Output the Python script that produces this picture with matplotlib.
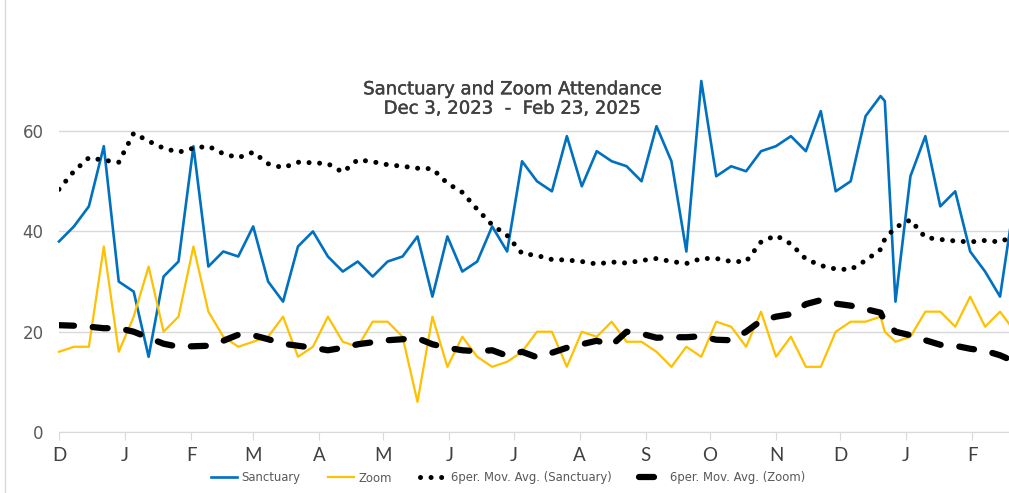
import numpy as np, pandas as pd
import matplotlib; matplotlib.use("Agg"); import matplotlib.pyplot as plt
import matplotlib.patheffects as pe
from matplotlib.lines import Line2D

# ---- weekly attendance, Dec 3 2023 .. Feb 23 2025 (+ Christmas Eve 2024) ----
dates = list(pd.date_range("2023-12-03", "2025-02-23", freq="7D"))
dates.insert(56, pd.Timestamp("2024-12-24"))

sanctuary = [38, 41, 45, 57, 30, 28, 15, 31, 34, 57, 33,
             36, 35, 41, 30, 26, 37, 40, 35, 32, 34,
             31, 34, 35, 39, 27, 39, 32, 34, 41, 36,
             54, 50, 48, 59, 49, 56, 54, 53, 50, 61, 54,
             36, 70, 51, 53, 52, 56, 57, 59, 56, 64,
             48, 50, 63, 67, 66,
             26, 51, 59, 45, 48, 36, 32, 27, 47]
zoom = [16, 17, 17, 37, 16, 23, 33, 20, 23, 37, 24,
        19, 17, 18, 19, 23, 15, 17, 23, 18, 17,
        22, 22, 19, 6, 23, 13, 19, 15, 13, 14,
        16, 20, 20, 13, 20, 19, 22, 18, 18, 16, 13,
        17, 15, 22, 21, 17, 24, 15, 19, 13, 13,
        20, 22, 22, 23, 20,
        18, 19, 24, 24, 21, 27, 21, 24, 20]
# moving-average trendlines as drawn in the original
ma_sanctuary = [48.4, 52, 54.7, 54.2, 53.8, 59.6, 58, 56.6, 55.8, 56.6, 57,
                55.5, 54.7, 55.8, 53.5, 52.7, 53.8, 53.7, 53.5, 51.8, 54.3,
                53.9, 53.3, 53, 52.6, 52.5, 49.6, 47.8, 44.4, 41.3, 39.2,
                35.6, 35.2, 34.4, 34.3, 34, 33.5, 33.9, 33.7, 34.2, 34.6, 34,
                33.6, 34.6, 34.6, 34, 34, 37.9, 39.2, 37.5, 34.5, 33.2,
                32.5, 32.4, 34.2, 36.4, 38.5,
                40.8, 42.3, 38.8, 38.4, 38.1, 37.9, 38.2, 37.9, 39.2]
ma_zoom = [21.3, 21.2, 21, 20.7, 20.7, 20, 18.8, 17.6, 17, 17.1, 17.2,
           18.2, 19.4, 19.3, 18.5, 17.6, 17.2, 16.8, 16.3, 16.8, 17.5,
           17.9, 18.3, 18.5, 18.7, 17.5, 16.8, 16.3, 16.1, 16.3, 15.2,
           16, 14.9, 15.8, 16.8, 17.5, 18.2, 17.3, 20, 19.6, 18.8, 18.9,
           18.9, 19.1, 18.4, 18.3, 20, 22.2, 23, 23.5, 25.5, 26.3,
           25.6, 25.2, 24.5, 23.8, 22,
           20, 19.3, 18.3, 17.4, 17.2, 16.6, 16.2, 15.3, 14]
yticks = [0, 20, 40, 60]

W, H = 1009, 493
fig = plt.figure(figsize=(W/100, H/100), dpi=100)
ax = fig.add_axes([59/W, 1-432/H, 950/W, (432-81)/H])

ax.plot(dates, sanctuary, color="#0070C0", lw=1.9, label="Sanctuary", clip_on=False, zorder=3)
ax.plot(dates, zoom, color="#FFC000", lw=1.6, label="Zoom", clip_on=False, zorder=3)
ax.plot(dates, ma_sanctuary, color="black", lw=3.6, ls=(0, (0.01, 2.1)), dash_capstyle="round",
        label="6per. Mov. Avg. (Sanctuary)", zorder=4)
ax.plot(dates, ma_zoom, color="black", lw=4.5, ls=(0, (2.4, 3.0)), dash_capstyle="round",
        label="6per. Mov. Avg. (Zoom)", zorder=4)

start = pd.Timestamp("2023-12-03")
ax.set_xlim(start, start + pd.Timedelta(days=445.2))
ax.set_ylim(0, 70)
ax.set_yticks(yticks)
ax.grid(axis="y", color="#d9d9d9", lw=1)
ax.set_axisbelow(True)
months = pd.date_range("2023-12-01", "2025-02-01", freq="MS") + pd.Timedelta(days=2)
ax.set_xticks(months)
ax.set_xticklabels([d.strftime("%b")[0] for d in months], fontsize=13.5, color="#404040",
                   family="Lato")
ax.tick_params(axis="x", length=6, color="#d9d9d9", pad=5)
ax.tick_params(axis="y", length=0, pad=11, labelsize=12, labelcolor="#595959")
for s in ["top", "right", "left"]:
    ax.spines[s].set_visible(False)
ax.spines["bottom"].set_color("#d9d9d9")

fig.text(512/W, 1-99/H, "Sanctuary and Zoom Attendance\nDec 3, 2023  -  Feb 23, 2025",
         ha="center", va="center", fontsize=13, color="#404040", linespacing=1.1,
         path_effects=[pe.withStroke(linewidth=0.3, foreground="#404040")])

fig.legend(loc="center", bbox_to_anchor=(508/W, 1-478/H), ncol=4, frameon=False, fontsize=8.4,
           labelcolor="#595959", handlelength=2.2, columnspacing=2.4, handletextpad=0.4)

fig.add_artist(Line2D([5/W, 5/W], [0, 1], color="#d9d9d9", lw=1))

fig.savefig("out.png", dpi=100)
